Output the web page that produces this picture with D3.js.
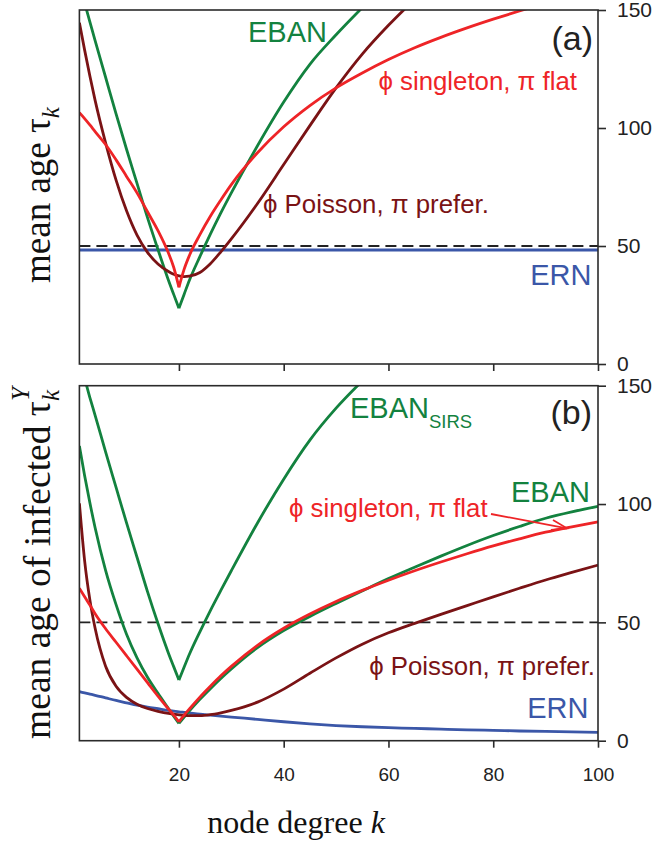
<!DOCTYPE html>
<html><head><meta charset="utf-8">
<script src="https://cdn.jsdelivr.net/npm/d3@7"></script>
<style>body{margin:0;background:#fff}svg{display:block}</style>
</head><body>
<script>
// ---------- data ----------
const K = [1,2,3,4,6,8,10,12,14,16,18,19,20,21,22,24,26,28,30,35,40,45,50,55,60,65,70,75,80,85,90,95,100];
// panel (a): mean age tau_k
const ebanA = [161,153,145,137,121.5,106,91,76.5,62,48.5,35.5,29.5,23.6,29.6,35.5,45.5,55,64,72.5,92.5,111,127,139.5,151,null,null,null,null,null,null,null,null,null];
const poisA = [144.6,133,122,111.7,93.7,77.9,64.9,54.6,47.3,42.4,39.2,38,37.3,37,37.2,38.8,42.5,47.5,53,68,84.5,101,117,131.3,143.5,154.5,null,null,null,null,null,null,null];
const singA = [106.5,104,101.3,98.5,93,86.5,79.5,72.5,64.5,56.5,47,41,32.5,40.2,46,54.8,62.6,69.5,76,89.5,100.5,109.5,117,123.3,129,134,138.4,142.4,146.1,149.6,152.9,null,null];
const ernA  = K.map(() => 48.3);
// panel (b): mean age of infected tau_k^Y
const ebanSirsB = [160,153,145,137.5,122,107,92,77.5,63,49.5,37,31.3,25.6,31.1,36.5,46,55,63.5,71.8,92,110.5,127,140.5,152,null,null,null,null,null,null,null,null,null];
const ebanB = [124.5,112,100.5,90,72,57.5,45,35,26.8,20,13.6,10.4,7.3,10,12.6,17.5,22,26.3,30.3,39.3,46.5,52.5,58,63.3,68.5,73.3,78,82.5,86.7,90.5,94,96.7,99];
const singB = [64.4,60.8,57.3,53.6,47.3,41.6,35.9,30.2,24.5,18.8,13.4,10.8,8,10.8,13.4,18.4,23,27.4,31.4,40.3,47.5,53.5,58.8,63.5,67.8,71.8,75.5,79,82.3,85.3,88.1,90.4,92.5];
const poisB = [100.3,76,59.5,47.5,31.5,23,18.3,15.4,13.6,12.4,11.5,11.2,10.9,10.7,10.6,10.6,11,11.8,12.8,16.3,21.8,28.5,35,40.8,45.6,49.6,53.4,57.1,60.8,64.4,67.9,71.1,74.2];
const ernB  = [20.7,20.2,19.7,19.2,18.1,17,16,15,14.2,13.5,12.8,12.5,12.2,11.95,11.7,11.2,10.8,10.4,10,9,8,7.1,6.4,5.9,5.5,5.2,4.9,4.6,4.4,4.1,3.9,3.7,3.5];
const refLevel = 50;
const yTicks = [0,50,100,150];
const xTicks = [20,40,60,80,100];
const cuspK = 20;

// ---------- styles ----------
const C = {green:"#13823f", red:"#ee2427", dark:"#7a1315", blue:"#3b57a8", axis:"#2b2b2b"};
const W = 659, H = 847;
const svg = d3.select("body").append("svg").attr("width", W).attr("height", H);

const x = d3.scaleLinear().domain([1,100]).range([79.4,598]);
const panels = [
  {id:"a", y: d3.scaleLinear().domain([0,150]).range([364,10]),
   series:[
     {v:ernA, c:C.blue, cusp:false, w:3.2},
     {v:ebanA, c:C.green, cusp:true},
     {v:poisA, c:C.dark, cusp:false},
     {v:singA, c:C.red, cusp:true}
   ]},
  {id:"b", y: d3.scaleLinear().domain([0,150]).range([740.7,385.7]),
   series:[
     {v:ernB, c:C.blue, cusp:false},
     {v:ebanSirsB, c:C.green, cusp:true},
     {v:ebanB, c:C.green, cusp:true},
     {v:poisB, c:C.dark, cusp:false},
     {v:singB, c:C.red, cusp:true}
   ]}
];

panels.forEach(p => {
  const y = p.y;
  const [y0, y1] = y.range();
  const g = svg.append("g");
  g.append("clipPath").attr("id","clip"+p.id).append("rect")
    .attr("x", x(1)).attr("y", y1).attr("width", x(100)-x(1)).attr("height", y0-y1);
  const plot = g.append("g").attr("clip-path","url(#clip"+p.id+")");
  plot.append("line").attr("x1", x(1)).attr("x2", x(100))
    .attr("y1", y(refLevel)).attr("y2", y(refLevel))
    .attr("stroke","#222").attr("stroke-width",1.9).attr("stroke-dasharray","11,6");
  p.series.forEach(s => {
    const pts = K.map((k,i) => [k, s.v[i]]).filter(d => d[1] !== null);
    const parts = s.cusp ? [pts.filter(d => d[0] <= cuspK), pts.filter(d => d[0] >= cuspK)] : [pts];
    const line = d3.line().x(d => x(d[0])).y(d => y(d[1])).curve(d3.curveMonotoneX);
    parts.forEach(part => {
      plot.append("path").attr("d", line(part)).attr("fill","none")
        .attr("stroke", s.c).attr("stroke-width", s.w || 2.8).attr("stroke-linejoin","round");
    });
  });
  g.append("rect").attr("x", x(1)).attr("y", y1).attr("width", x(100)-x(1)).attr("height", y0-y1)
    .attr("fill","none").attr("stroke", C.axis).attr("stroke-width",1.6);
  const ra = g.append("g").attr("transform", `translate(${x(100)},0)`)
    .call(d3.axisRight(y).tickValues(yTicks).tickSize(8).tickPadding(11).tickFormat(d3.format("d")));
  ra.select(".domain").remove();
  ra.selectAll("line").attr("stroke", C.axis).attr("stroke-width",1.6);
  ra.selectAll("text").attr("font-family","'Liberation Sans', Arial, sans-serif").attr("font-size",21).attr("fill","#222");
  const ba = g.append("g").attr("transform", `translate(0,${y0})`)
    .call(d3.axisBottom(x).tickValues(xTicks).tickSize(7).tickPadding(20)
      .tickFormat(p.id === "b" ? d3.format("d") : () => ""));
  ba.select(".domain").remove();
  ba.selectAll("line").attr("stroke", C.axis).attr("stroke-width",1.6);
  ba.selectAll("text").attr("font-family","'Liberation Sans', Arial, sans-serif").attr("font-size",19).attr("fill","#222");
});

// ---------- labels ----------
const sans = "'Liberation Sans', Arial, sans-serif";
const serif = "'Liberation Serif', 'Times New Roman', serif";
function label(txt, px, py, color, size, anchor) {
  return svg.append("text").attr("x", px).attr("y", py).attr("fill", color)
    .attr("font-family", sans).attr("font-size", size).attr("text-anchor", anchor || "start").text(txt);
}
label("EBAN", 248, 41.7, C.green, 29);
label("(a)", 593, 50, "#222", 34, "end");
label("\u03D5 singleton, \u03C0 flat", 577, 90, C.red, 25.8, "end");
label("\u03D5 Poisson, \u03C0 prefer.", 263, 213.3, C.dark, 25.8);
label("ERN", 591.5, 285, C.blue, 29, "end");
const sirs = label("EBAN", 350, 418.3, C.green, 29);
sirs.append("tspan").attr("font-size",18.5).attr("dy",10).text("SIRS");
label("(b)", 592, 424, "#222", 34, "end");
label("EBAN", 590, 501.7, C.green, 29, "end");
label("\u03D5 singleton, \u03C0 flat", 289, 516.7, C.red, 25.8);
label("\u03D5 Poisson, \u03C0 prefer.", 595, 675, C.dark, 25.8, "end");
label("ERN", 588.5, 718.3, C.blue, 29, "end");
svg.append("line").attr("x1",491).attr("y1",514).attr("x2",567).attr("y2",528.3)
  .attr("stroke",C.red).attr("stroke-width",1.8);
svg.append("path").attr("d","M553,520 L567,528.3 L551,530")
  .attr("fill","none").attr("stroke",C.red).attr("stroke-width",1.8);

const ya = svg.append("text").attr("transform","translate(50,195) rotate(-90)")
  .attr("text-anchor","middle").attr("font-family",serif).attr("font-size",37).attr("fill","#111");
ya.append("tspan").text("mean age \u03C4");
ya.append("tspan").attr("font-style","italic").attr("font-size",25).attr("dy",9).text("k");
const yb = svg.append("text").attr("transform","translate(50,563) rotate(-90)")
  .attr("text-anchor","middle").attr("font-family",serif).attr("font-size",37.5).attr("fill","#111");
yb.append("tspan").text("mean age of infected \u03C4");
yb.append("tspan").attr("font-style","italic").attr("font-size",25).attr("dy",9).text("k");
yb.append("tspan").attr("font-style","italic").attr("font-size",25).attr("dx",-11).attr("dy",-30).text("Y");
const xt = svg.append("text").attr("x",296).attr("y",833).attr("text-anchor","middle")
  .attr("font-family",serif).attr("font-size",32).attr("fill","#111");
xt.append("tspan").text("node degree ");
xt.append("tspan").attr("font-style","italic").text("k");
</script>
</body></html>
